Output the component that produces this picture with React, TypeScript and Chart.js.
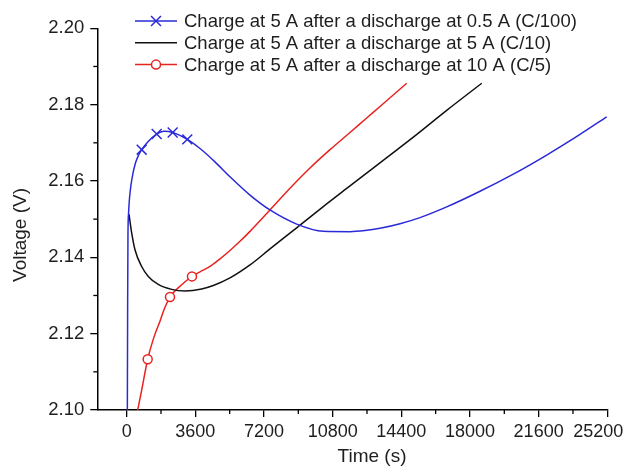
import React, { useEffect, useRef } from 'react';
import { Chart, registerables } from 'chart.js';

Chart.register(...registerables);

// ---- data ----
const BLUE_T = [30, 52, 68, 100, 147, 225, 330, 461, 619, 787, 1117, 1573, 1956, 2412, 3178, 3844, 4630, 5417, 6466, 7514, 8915, 10309, 11709, 12496, 13283, 14332, 15380, 16780, 18527, 20273, 22024, 23770, 25170];
const BLUE_V = [2.0900, 2.1288, 2.1458, 2.1516, 2.1554, 2.1589, 2.1620, 2.1647, 2.1667, 2.1682, 2.1703, 2.1723, 2.1730, 2.1727, 2.1709, 2.1685, 2.1650, 2.1611, 2.1563, 2.1524, 2.1487, 2.1468, 2.1467, 2.1470, 2.1476, 2.1488, 2.1504, 2.1532, 2.1573, 2.1618, 2.1668, 2.1722, 2.1768];
const BLUE_MARKERS = [787, 1573, 2412, 3178];

const BLACK_T = [121, 262, 435, 787, 1133, 1657, 2360, 3057, 3933, 4541, 5417, 6466, 7514, 8930, 10309, 11709, 13110, 15029, 16780, 18616];
const BLACK_V = [2.1513, 2.1464, 2.1420, 2.1376, 2.1350, 2.1329, 2.1316, 2.1312, 2.1317, 2.1326, 2.1346, 2.1380, 2.1422, 2.1478, 2.1533, 2.1587, 2.1641, 2.1715, 2.1785, 2.1856];

const RED_T = [566, 787, 1101, 1405, 1756, 2008, 2271, 2533, 2884, 3162, 3424, 3844, 4368, 4893, 5417, 5941, 6466, 7514, 8563, 9612, 10661, 11709, 12585, 13283, 14683];
const RED_V = [2.0997, 2.1052, 2.1133, 2.1187, 2.1234, 2.1269, 2.1296, 2.1312, 2.1328, 2.1340, 2.1350, 2.1362, 2.1376, 2.1396, 2.1418, 2.1442, 2.1468, 2.1524, 2.1581, 2.1634, 2.1682, 2.1727, 2.1765, 2.1795, 2.1856];
const RED_MARKERS = [1101, 2271, 3424];

const SERIES_LABELS = [
  'Charge at 5 A after a discharge at 0.5 A (C/100)',
  'Charge at 5 A after a discharge at 5 A (C/10)',
  'Charge at 5 A after a discharge at 10 A (C/5)',
];

const X_MAJOR = [0, 3600, 7200, 10800, 14400, 18000, 21600, 25200];
const X_MINOR = [1800, 5400, 9000, 12600, 16200, 19800, 23400];
const Y_MAJOR = [2.10, 2.12, 2.14, 2.16, 2.18, 2.20];
const Y_MINOR = [2.11, 2.13, 2.15, 2.17, 2.19];
const X_MIN = -1540;
const X_MAX = 25200;
const Y_MIN = 2.10;
const Y_MAX = 2.20;
const X_TITLE = 'Time (s)';
const Y_TITLE = 'Voltage (V)';

const FONT = "'Liberation Sans', Arial, Helvetica, sans-serif";
const BLUE = '#2a2ad8';
const BLACK = '#111111';
const RED = '#e8231f';
const TEXT = '#1e1e1e';

function pts(t: number[], v: number[]) {
  return t.map((x, i) => ({ x, y: v[i] }));
}

function drawCrossRot(ctx: CanvasRenderingContext2D, cx: number, cy: number, r: number) {
  const d = r * Math.SQRT1_2;
  ctx.beginPath();
  ctx.moveTo(cx - d, cy - d);
  ctx.lineTo(cx + d, cy + d);
  ctx.moveTo(cx - d, cy + d);
  ctx.lineTo(cx + d, cy - d);
  ctx.stroke();
}

const decorPlugin = {
  id: 'decor',
  afterDraw(chart: any) {
    const { ctx, chartArea } = chart;
    const xs = chart.scales.x;
    const ys = chart.scales.y;
    ctx.save();
    ctx.strokeStyle = '#000';
    ctx.lineWidth = 1.3;
    X_MINOR.forEach((v) => {
      const px = xs.getPixelForValue(v);
      ctx.beginPath();
      ctx.moveTo(px, chartArea.bottom);
      ctx.lineTo(px, chartArea.bottom + 4);
      ctx.stroke();
    });
    Y_MINOR.forEach((v) => {
      const py = ys.getPixelForValue(v);
      ctx.beginPath();
      ctx.moveTo(chartArea.left, py);
      ctx.lineTo(chartArea.left - 4, py);
      ctx.stroke();
    });

    // last x tick label, pulled inside the canvas like the reference
    const last = X_MAJOR[X_MAJOR.length - 1];
    ctx.fillStyle = TEXT;
    ctx.font = `18px ${FONT}`;
    ctx.textAlign = 'center';
    ctx.textBaseline = 'middle';
    ctx.fillText(String(last), xs.getPixelForValue(last) - 9, chartArea.bottom + 7 + 4 + 10.8);

    // axis titles
    ctx.font = `19px ${FONT}`;
    ctx.fillText(X_TITLE, 372, 457);
    ctx.save();
    ctx.translate(21, 235);
    ctx.rotate(-Math.PI / 2);
    ctx.fillText(Y_TITLE, 0, 0);
    ctx.restore();

    // legend
    const colors = [BLUE, BLACK, RED];
    ctx.font = `18.5px ${FONT}`;
    ctx.textAlign = 'left';
    SERIES_LABELS.forEach((label, i) => {
      const y = 21 + i * 21.8;
      ctx.strokeStyle = colors[i];
      ctx.lineWidth = 1.5;
      ctx.beginPath();
      ctx.moveTo(135, y);
      ctx.lineTo(177, y);
      ctx.stroke();
      if (i === 0) {
        drawCrossRot(ctx, 156, y, 7);
      } else if (i === 2) {
        ctx.fillStyle = '#fff';
        ctx.beginPath();
        ctx.arc(156, y, 4.5, 0, Math.PI * 2);
        ctx.fill();
        ctx.stroke();
      }
      ctx.fillStyle = TEXT;
      ctx.fillText(label, 184, y + 1);
    });
    ctx.restore();
  },
};

export default function App() {
  const ref = useRef<HTMLCanvasElement | null>(null);

  useEffect(() => {
    if (!ref.current) return;
    const blueSet = new Set(BLUE_MARKERS);
    const redSet = new Set(RED_MARKERS);
    const lastX = X_MAJOR[X_MAJOR.length - 1];
    const chart = new Chart(ref.current, {
      type: 'line',
      data: {
        datasets: [
          {
            label: SERIES_LABELS[0],
            data: pts(BLUE_T, BLUE_V),
            borderColor: BLUE,
            borderWidth: 1.5,
            cubicInterpolationMode: 'monotone',
            pointStyle: 'crossRot',
            pointRadius: (c: any) => (c.raw && blueSet.has(c.raw.x) ? 7 : 0),
            pointBorderColor: BLUE,
            pointBorderWidth: 1.5,
            pointBackgroundColor: BLUE,
            fill: false,
          },
          {
            label: SERIES_LABELS[1],
            data: pts(BLACK_T, BLACK_V),
            borderColor: BLACK,
            borderWidth: 1.5,
            cubicInterpolationMode: 'monotone',
            pointRadius: 0,
            fill: false,
          },
          {
            label: SERIES_LABELS[2],
            data: pts(RED_T, RED_V),
            borderColor: RED,
            borderWidth: 1.5,
            cubicInterpolationMode: 'monotone',
            pointStyle: 'circle',
            pointRadius: (c: any) => (c.raw && redSet.has(c.raw.x) ? 4.5 : 0),
            pointBorderColor: RED,
            pointBorderWidth: 1.5,
            pointBackgroundColor: '#ffffff',
            fill: false,
          },
        ],
      },
      options: {
        responsive: false,
        animation: false,
        events: [],
        layout: { padding: { left: 0, right: 21.7, top: 28.3, bottom: 0 } },
        plugins: { legend: { display: false }, tooltip: { enabled: false }, title: { display: false } },
        scales: {
          x: {
            type: 'linear',
            min: X_MIN,
            max: X_MAX,
            afterBuildTicks: (s: any) => {
              s.ticks = X_MAJOR.map((v) => ({ value: v }));
            },
            afterFit: (s: any) => {
              s.height = 61;
              s.paddingLeft = 0;
              s.paddingRight = 0;
            },
            grid: { drawOnChartArea: false, drawTicks: true, tickLength: 7, color: '#000', lineWidth: 1.3 },
            border: { display: true, color: '#000', width: 1.5 },
            ticks: {
              font: { family: FONT, size: 18 },
              color: TEXT,
              padding: 4,
              maxRotation: 0,
              autoSkip: false,
              callback: (v: any) => (v === lastX ? '' : String(v)),
            },
          },
          y: {
            type: 'linear',
            min: Y_MIN,
            max: Y_MAX,
            afterBuildTicks: (s: any) => {
              s.ticks = Y_MAJOR.map((v) => ({ value: v }));
            },
            afterFit: (s: any) => {
              s.width = 97.3;
              s.paddingTop = 0;
              s.paddingBottom = 0;
            },
            grid: { drawOnChartArea: false, drawTicks: true, tickLength: 7, color: '#000', lineWidth: 1.3 },
            border: { display: true, color: '#000', width: 1.5 },
            ticks: {
              font: { family: FONT, size: 18.5 },
              color: TEXT,
              padding: 6,
              autoSkip: false,
              callback: (v: any) => Number(v).toFixed(2),
            },
          },
        },
      },
      plugins: [decorPlugin],
    } as any);
    return () => chart.destroy();
  }, []);

  return (
    <div style={{ position: 'absolute', left: 0, top: 0, width: 629, height: 471, background: '#fff' }}>
      <canvas ref={ref} width={629} height={471} style={{ display: 'block' }} />
    </div>
  );
}
